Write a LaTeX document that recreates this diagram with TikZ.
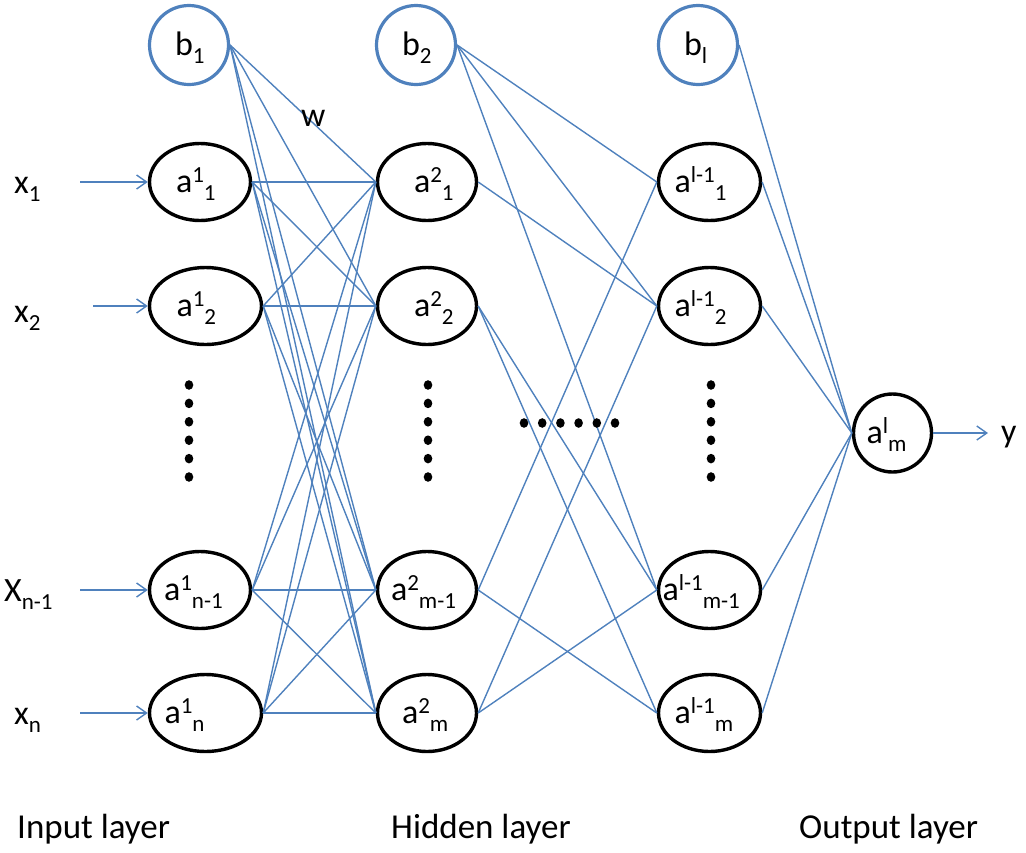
\documentclass[tikz,border=0pt]{standalone}
\usepackage{fontspec}
\setmainfont{Carlito}
\usetikzlibrary{shapes.geometric,arrows.meta}
\definecolor{wireblue}{HTML}{4F81BD}
\newcommand{\SupT}[1]{\raisebox{10pt}{\fontsize{23}{23}\selectfont #1}}
\newcommand{\SubT}[1]{\raisebox{-8pt}{\fontsize{23}{23}\selectfont #1}}
\newcommand{\NT}[2]{\makebox[0pt][l]{\smash{\hspace*{#1pt}\raisebox{-10pt}{#2}}}}
\begin{document}
\begin{tikzpicture}[x=1pt,y=-1pt,font=\fontsize{34}{38}\selectfont,
  neuron/.style={ellipse,draw=black,line width=3.4pt,inner sep=0pt,minimum width=101pt,minimum height=77pt},
  wideneuron/.style={neuron,minimum width=112pt},
  bias/.style={circle,draw=wireblue,line width=3.2pt,inner sep=0pt,minimum size=79pt},
  outneuron/.style={circle,draw=black,line width=3.4pt,inner sep=0pt,minimum size=78pt},
  conn/.style={draw=wireblue,line width=1.4pt},
  inarrow/.style={conn,-{Straight Barb[length=10pt,width=14pt,line width=1.4pt]}},
  lbl/.style={inner sep=0pt,anchor=base west},
  layerlbl/.style={inner sep=0pt,anchor=base west,font=\fontsize{35}{40}\selectfont}]
\useasboundingbox (0,0) rectangle (1026,852);

% bias nodes
\node[bias] (b1) at (189,45) {\NT{-14}{b\SubT{1}}};
\node[bias] (b2) at (416,45) {\NT{-14}{b\SubT{2}}};
\node[bias] (bl) at (698,45) {\NT{-14}{b\SubT{l}}};

% input layer
\node[neuron] (a11) at (200,182) {\NT{-24}{a\SupT{1}\SubT{1}}};
\node[wideneuron] (a12) at (205.5,306) {\NT{-29}{a\SupT{1}\SubT{2}}};
\node[neuron] (a1n1) at (200,590) {\NT{-36}{a\SupT{1}\SubT{n-1}}};
\node[wideneuron] (a1n) at (205.5,713) {\NT{-41}{a\SupT{1}\SubT{n}}};

% hidden layer
\node[neuron,minimum width=99pt] (a21) at (427,182) {\NT{-13}{a\SupT{2}\SubT{1}}};
\node[neuron,minimum width=99pt] (a22) at (427,306) {\NT{-13}{a\SupT{2}\SubT{2}}};
\node[neuron,minimum width=99pt] (a2m1) at (427,590) {\NT{-36}{a\SupT{2}\SubT{m-1}}};
\node[neuron,minimum width=99pt] (a2m) at (427,713) {\NT{-25}{a\SupT{2}\SubT{m}}};

% layer l-1
\node[neuron,minimum width=102pt] (l11) at (709.5,182) {\NT{-35}{a\SupT{l-1}\SubT{1}}};
\node[neuron,minimum width=102pt] (l12) at (709.5,306) {\NT{-35}{a\SupT{l-1}\SubT{2}}};
\node[neuron,minimum width=102pt] (l1m1) at (709.5,590) {\NT{-47}{a\SupT{l-1}\SubT{m-1}}};
\node[neuron,minimum width=102pt] (l1m) at (709.5,713) {\NT{-35}{a\SupT{l-1}\SubT{m}}};

% output
\node[outneuron] (out) at (892.5,433) {\NT{-26}{a\SupT{l}\SubT{m}}};

% inputs
\node[lbl] (x1) at (14,193) {x\SubT{1}};
\node[lbl] (x2) at (14,322) {x\SubT{2}};
\node[lbl] (xn1) at (4,601) {X\SubT{n-1}};
\node[lbl] (xn) at (14,724) {x\SubT{n}};
\coordinate (s1) at (80,182);
\coordinate (s2) at (93,306);
\coordinate (s3) at (80,590);
\coordinate (s4) at (80,713);
\draw[inarrow] (s1) -- (a11.west);
\draw[inarrow] (s2) -- (a12.west);
\draw[inarrow] (s3) -- (a1n1.west);
\draw[inarrow] (s4) -- (a1n.west);

% output arrow
\coordinate (yend) at (988,433);
\draw[inarrow] (out.east) -- (yend);
\node[lbl] (ylab) at (1001,442) {y};

% connections layer 1 -> 2
\foreach \s in {b1,a11,a12,a1n1,a1n}
  \foreach \t in {a21,a22,a2m1,a2m}
    \draw[conn] (\s.east) -- (\t.west);
\node[lbl] (w) at (301,126) {w};

% connections layer 2 -> l-1
\foreach \s/\t in {b2/l11,b2/l12,b2/l1m1,a21/l12,a22/l1m1,a22/l1m,a2m1/l11,a2m1/l1m,a2m/l12,a2m/l1m1}
  \draw[conn] (\s.east) -- (\t.west);

% connections l-1 -> output
\foreach \s in {bl,l11,l12,l1m1,l1m}
  \draw[conn] (\s.east) -- (out.west);

% dots
\foreach \xx in {189,428,711}
  \foreach \k in {0,...,5}
    \fill (\xx,385+18.4*\k) ellipse (4.3pt and 4.8pt);
\foreach \k in {0,...,5}
  \fill (524+18.2*\k,423) ellipse (4.3pt and 4.8pt);

% layer labels
\node[layerlbl] (inl) at (17,838) {Input layer};
\node[layerlbl] (hidl) at (391,838) {Hidden layer};
\node[layerlbl] (outl) at (799,838) {Output layer};
\end{tikzpicture}
\end{document}
